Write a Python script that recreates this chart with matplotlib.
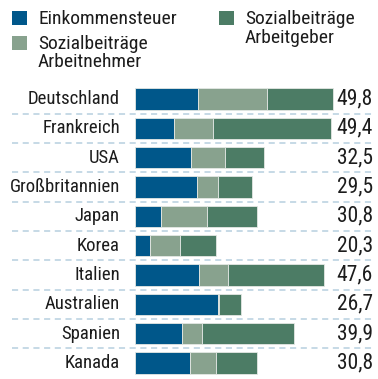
import matplotlib
matplotlib.use("Agg")
import matplotlib.pyplot as plt
from matplotlib.patches import Rectangle

plt.rcParams['font.family'] = ['Roboto Condensed', 'DejaVu Sans']

countries = ["Deutschland", "Frankreich", "USA", "Großbritannien", "Japan",
             "Korea", "Italien", "Australien", "Spanien", "Kanada"]
einkommensteuer = [15.9, 9.9, 14.1, 15.7, 6.5, 3.8, 16.1, 21.0, 11.9, 13.8]
sozial_an = [17.4, 9.7, 8.5, 5.2, 11.7, 7.5, 7.3, 0.2, 5.0, 6.5]
sozial_ag = [16.5, 29.8, 9.9, 8.6, 12.6, 9.0, 24.2, 5.5, 23.0, 10.5]
totals = ["49,8", "49,4", "32,5", "29,5", "30,8", "20,3", "47,6", "26,7", "39,9", "30,8"]

series_names = ["Einkommensteuer", "Sozialbeiträge\nArbeitnehmer", "Sozialbeiträge\nArbeitgeber"]
colors = ["#00578a", "#88a28e", "#4c7c65"]
text_color = "#1c1c1c"

W, H = 378, 379
fig = plt.figure(figsize=(W / 100, H / 100), dpi=100)

# axes placed in pixel terms: x=0 at 135 px, 50 units ~ 199 px; rows 29.33 px apart
x0_px, x1_px = 135, 333.8
top_px, bot_px = 84.3, 377.7
ax = fig.add_axes([x0_px / W, 1 - bot_px / H, (x1_px - x0_px) / W, (bot_px - top_px) / H])
ax.set_xlim(0, 50)
ax.set_ylim(len(countries) - 0.5, -0.5)
ax.axis("off")

ypos = list(range(len(countries)))
left = [0.0] * len(countries)
for vals, col in zip([einkommensteuer, sozial_an, sozial_ag], colors):
    ax.barh(ypos, vals, left=left, height=0.73, color=col,
            edgecolor="#e4e8e4", linewidth=0.6)
    left = [l + v for l, v in zip(left, vals)]

trans = ax.get_yaxis_transform()
lab_x = (120 - x0_px) / (x1_px - x0_px)
val_x = (373 - x0_px) / (x1_px - x0_px)
line_x0 = (12 - x0_px) / (x1_px - x0_px)
for i, (c, t) in enumerate(zip(countries, totals)):
    ax.text(lab_x, i, c, transform=trans, ha="right", va="center",
            fontsize=13.5, color=text_color, clip_on=False)
    ax.text(val_x, i, t, transform=trans, ha="right", va="center",
            fontsize=15.5, color=text_color, clip_on=False)
for i in range(len(countries) - 1):
    ax.plot([line_x0, val_x], [i + 0.5, i + 0.5], transform=trans,
            color="#b7cfdf", lw=1.1, ls=(0, (4, 3)), clip_on=False)

# legend drawn in figure pixel space
def px_rect(x, y, w, h, col):
    fig.add_artist(Rectangle((x / W, 1 - (y + h) / H), w / W, h / H,
                             transform=fig.transFigure, color=col, lw=0))

def px_text(x, y, s):
    fig.text(x / W, 1 - y / H, s, ha="left", va="center", fontsize=14,
             color=text_color, linespacing=1.05)

px_rect(12, 11, 15, 14, colors[0])
px_text(38, 18.5, series_names[0])
px_rect(12, 36, 15, 14, colors[1])
px_text(38, 53, series_names[1])
px_rect(219, 11, 15, 14, colors[2])
px_text(245, 28.5, series_names[2])

fig.savefig("out.png", dpi=100)
